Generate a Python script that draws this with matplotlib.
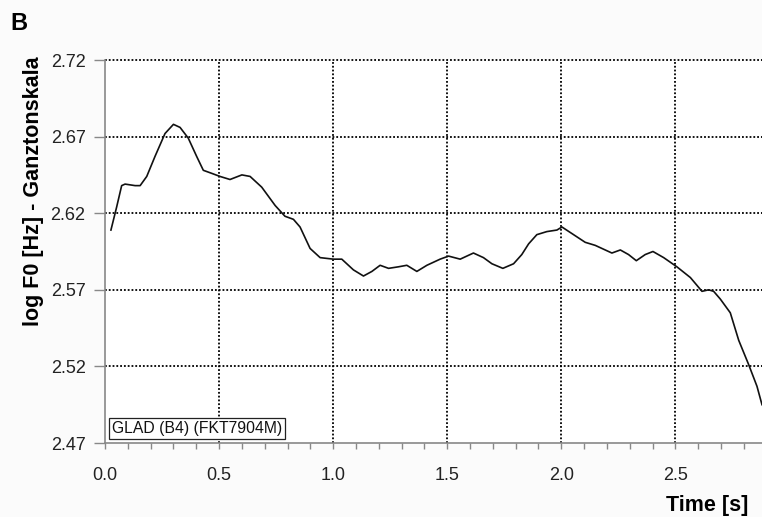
import matplotlib
matplotlib.use("Agg")
import matplotlib.pyplot as plt
from matplotlib.ticker import MultipleLocator, FixedLocator

plt.rcParams['font.family'] = ['Liberation Sans', 'DejaVu Sans']

# F0 contour (log Hz) over time
time_s = [0.026, 0.051, 0.073, 0.088, 0.132, 0.154, 0.183, 0.219, 0.263, 0.300,
          0.329, 0.365, 0.402, 0.431, 0.468, 0.504, 0.548, 0.600, 0.636, 0.687,
          0.746, 0.789, 0.826, 0.855, 0.899, 0.943, 1.001, 1.038, 1.089, 1.133,
          1.170, 1.206, 1.243, 1.286, 1.323, 1.367, 1.411, 1.469, 1.506, 1.557,
          1.615, 1.659, 1.696, 1.744, 1.791, 1.827, 1.857, 1.893, 1.937, 1.981,
          2.003, 2.054, 2.105, 2.149, 2.222, 2.259, 2.295, 2.329, 2.368, 2.402,
          2.449, 2.507, 2.566, 2.617, 2.646, 2.668, 2.697, 2.741, 2.778, 2.822,
          2.858, 2.880]
log_f0 = [2.609, 2.624, 2.638, 2.639, 2.638, 2.638, 2.644, 2.657, 2.672, 2.678,
          2.676, 2.669, 2.657, 2.648, 2.646, 2.644, 2.642, 2.645, 2.644, 2.637,
          2.625, 2.618, 2.616, 2.611, 2.597, 2.591, 2.590, 2.590, 2.583, 2.579,
          2.582, 2.586, 2.584, 2.585, 2.586, 2.582, 2.586, 2.590, 2.592, 2.590,
          2.594, 2.591, 2.587, 2.584, 2.587, 2.593, 2.600, 2.606, 2.608, 2.609,
          2.611, 2.606, 2.601, 2.599, 2.594, 2.596, 2.593, 2.589, 2.593, 2.595,
          2.591, 2.585, 2.578, 2.569, 2.570, 2.569, 2.564, 2.555, 2.537, 2.521,
          2.507, 2.495]

y_ticks = [2.47, 2.52, 2.57, 2.62, 2.67, 2.72]
x_ticks = [0.0, 0.5, 1.0, 1.5, 2.0, 2.5]
x_tick_labels = ["0.0", "0.5", "1.0", "1.5", "2.0", "2.5"]
series_label = "GLAD (B4) (FKT7904M)"

fig = plt.figure(figsize=(7.62, 5.17), dpi=100, facecolor='#fbfbfb')
ax = fig.add_axes([105 / 762, 1 - 443 / 517, 1 - 105 / 762, (443 - 60) / 517])
ax.set_facecolor('white')

ax.plot(time_s, log_f0, color='#111111', lw=1.2, zorder=3,
        solid_joinstyle='round')

ax.set_xlim(0.0, 2.88)
ax.set_ylim(2.47, 2.72)

ax.xaxis.set_major_locator(FixedLocator(x_ticks))
ax.set_xticklabels(x_tick_labels)
ax.xaxis.set_minor_locator(MultipleLocator(0.1))
ax.yaxis.set_major_locator(FixedLocator(y_ticks))
ax.set_yticklabels([f"{v:.2f}" for v in y_ticks])

grid_style = dict(color='black', linestyle=(0, (1, 1.1)), linewidth=1.3)
for v in x_ticks[1:]:
    ax.axvline(v, zorder=1, **grid_style)
for v in y_ticks[1:]:
    ax.axhline(v, zorder=1, clip_on=False, **grid_style)

for s in ('top', 'right'):
    ax.spines[s].set_visible(False)
for s in ('left', 'bottom'):
    ax.spines[s].set_color('#888888')
    ax.spines[s].set_linewidth(1.2)

ax.tick_params(axis='x', which='both', direction='out', length=4, width=1,
               color='#888888', labelsize=13, pad=13, labelcolor='#222222')
ax.tick_params(axis='y', which='major', direction='out', length=8, width=1,
               color='#888888', labelsize=13, pad=6, labelcolor='#222222')

ax.text(0.03, 2.4795, series_label, fontsize=11.3, color='#111111',
        ha='left', va='center', zorder=4,
        bbox=dict(boxstyle='square,pad=0.2', facecolor='white',
                  edgecolor='#222222', linewidth=0.9))

fig.text(34 / 762, 1 - 191 / 517, "log F0 [Hz] - Ganztonskala", rotation=90,
         fontsize=15.5, fontweight='bold', ha='center', va='center')
fig.text(748 / 762, 1 - 505 / 517, "Time [s]", fontsize=15.5,
         fontweight='bold', ha='right', va='center')
fig.text(10 / 762, 1 - 24 / 517, "B", fontsize=17, fontweight='bold',
         ha='left', va='center')

fig.savefig("out.png", dpi=100, facecolor=fig.get_facecolor())
